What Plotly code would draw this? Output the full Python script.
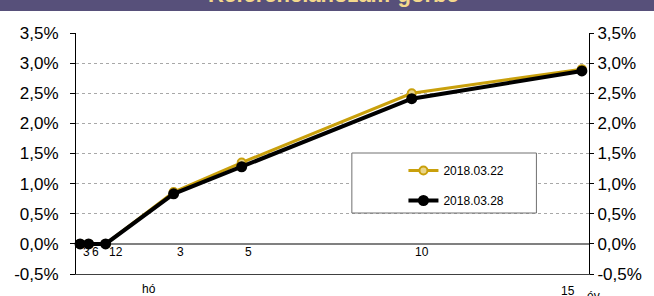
import plotly.graph_objects as go

# Data
maturity_years = [0.25, 0.5, 1, 3, 5, 10, 15]
maturity_labels = ["3", "6", "12", "3", "5", "10", "15"]
series_a_name = "2018.03.22"
series_a = [0.0, 0.0, 0.0, 0.86, 1.35, 2.50, 2.90]
series_b_name = "2018.03.28"
series_b = [0.0, 0.0, 0.0, 0.83, 1.28, 2.41, 2.87]
y_ticks = [-0.5, 0.0, 0.5, 1.0, 1.5, 2.0, 2.5, 3.0, 3.5]
y_tick_labels = ["-0,5%", "0,0%", "0,5%", "1,0%", "1,5%", "2,0%", "2,5%", "3,0%", "3,5%"]
title_text = "Referenciahozam-görbe"

W, H = 654, 296
L, R, T, B = 76, 61, 33, 22
pw, ph = W - L - R, H - T - B

def px_x(p):
    return (p - L) / pw

def px_y(p):
    return (H - B - p) / ph

GOLD = "#C9A00C"

fig = go.Figure()
fig.add_trace(go.Scatter(
    x=maturity_years, y=series_a, name=series_a_name, mode="lines+markers",
    line=dict(color=GOLD, width=3),
    marker=dict(size=8, color="#E9D58A", line=dict(color=GOLD, width=2)),
    legendgroup="a", yaxis="y", cliponaxis=False,
))
fig.add_trace(go.Scatter(
    x=maturity_years, y=series_b, name=series_b_name, mode="lines+markers",
    line=dict(color="black", width=4),
    marker=dict(size=11, color="black"),
    legendgroup="b", yaxis="y", cliponaxis=False,
))
# invisible trace for right axis
fig.add_trace(go.Scatter(x=[maturity_years[0]], y=[y_ticks[0]], yaxis="y2",
                         mode="markers", marker=dict(opacity=0), showlegend=False,
                         hoverinfo="skip"))

annotations = []
for xv, lab in zip(maturity_years, maturity_labels):
    if xv == maturity_years[-1]:
        annotations.append(dict(x=xv, y=px_y(291), xref="x", yref="paper", text=lab,
                                showarrow=False, xanchor="left", yanchor="middle", xshift=-23,
                                font=dict(size=12, color="black")))
    else:
        annotations.append(dict(x=xv, y=0, xref="x", yref="y", text=lab,
                                showarrow=False, xanchor="left", yanchor="middle",
                                yshift=-8, xshift=1,
                                font=dict(size=12, color="black")))
annotations.append(dict(x=px_x(150), y=px_y(289), xref="paper", yref="paper", text="hó",
                        showarrow=False, xanchor="center", yanchor="middle",
                        font=dict(size=12, color="black")))
annotations.append(dict(x=px_x(598), y=px_y(296), xref="paper", yref="paper", text="év",
                        showarrow=False, xanchor="center", yanchor="middle",
                        font=dict(size=12, color="black")))
annotations.append(dict(x=px_x(336), y=px_y(-2), xref="paper", yref="paper",
                        text="<b>" + title_text + "</b>",
                        showarrow=False, xanchor="center", yanchor="bottom", yshift=-11,
                        font=dict(size=22, color="#F3D88C", family="Liberation Sans")))

shapes = [
    dict(type="rect", xref="paper", yref="paper", x0=-1, x1=2, y0=px_y(11), y1=px_y(-10),
         fillcolor="#57507A", line=dict(width=0), layer="below"),
    dict(type="rect", xref="paper", yref="paper", x0=px_x(354), x1=px_x(540),
         y0=px_y(213), y1=px_y(153), fillcolor="white",
         line=dict(color="#707070", width=1), layer="above"),
]

axis_font = dict(size=17, color="black", family="Liberation Sans")
fig.update_layout(
    width=W, height=H, margin=dict(l=L, r=R, t=T, b=B),
    paper_bgcolor="white", plot_bgcolor="white",
    font=dict(family="Liberation Sans", color="black"),
    xaxis=dict(range=[0.13, 15.21], showgrid=False, zeroline=False, showticklabels=False,
               showline=True, linecolor="#404040", linewidth=1, ticks=""),
    yaxis=dict(range=[-0.5, 3.5], tickvals=y_ticks, ticktext=y_tick_labels,
               showgrid=True, gridcolor="#A8A8A8", griddash="dot", gridwidth=1,
               zeroline=True, zerolinecolor="#808080", zerolinewidth=2,
               showline=True, linecolor="black", linewidth=1,
               ticks="outside", ticklen=5, tickcolor="black", tickfont=axis_font,
               ticklabelstandoff=8),
    yaxis2=dict(range=[-0.5, 3.5], tickvals=y_ticks, ticktext=y_tick_labels,
                overlaying="y", side="right", showgrid=False, zeroline=False,
                showline=True, linecolor="black", linewidth=1,
                ticks="outside", ticklen=4, tickcolor="black", tickfont=axis_font),
    legend=dict(x=px_x(406), y=px_y(156), xanchor="left", yanchor="top",
                bgcolor="rgba(0,0,0,0)", borderwidth=0, tracegroupgap=11,
                font=dict(size=12, color="black")),
    annotations=annotations,
    shapes=shapes,
    showlegend=True,
)

fig.write_html("out.html", config={"displayModeBar": False},
               post_script="document.body.style.margin='0';document.body.style.overflow='hidden';")
